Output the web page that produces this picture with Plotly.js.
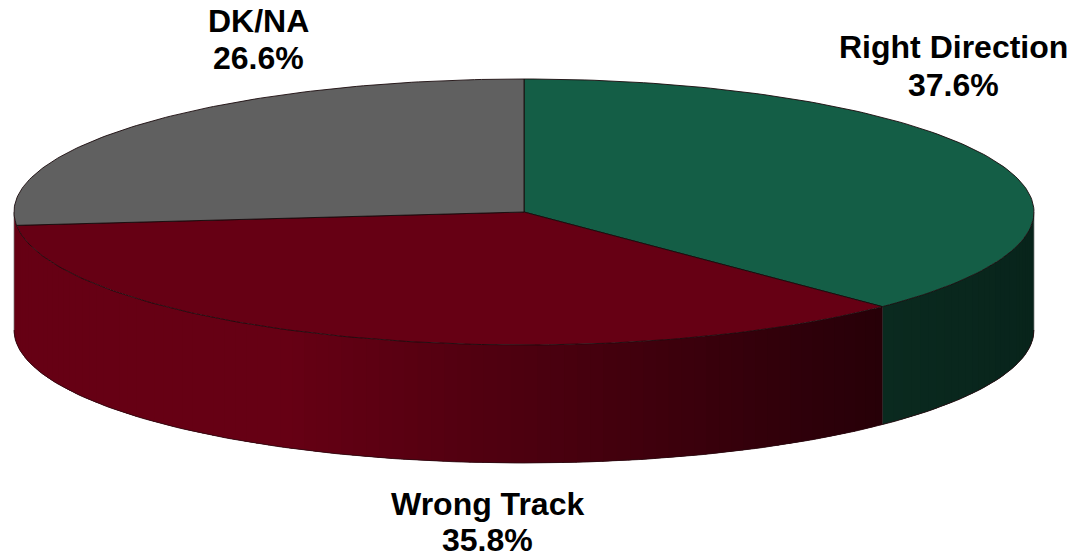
<!DOCTYPE html>
<html><head><meta charset="utf-8">
<script src="https://cdn.plot.ly/plotly-3.0.1.min.js"></script>
<style>html,body{margin:0;padding:0;background:#fff}</style></head>
<body><div id="chart" style="width:1074px;height:556px"></div>
<script>
const categories = ['Right Direction', 'Wrong Track', 'DK/NA'];
const shares = [37.6, 35.8, 26.6];
const topColors = ['#145e46', '#660014', '#606060'];
const wallDark = [[8,36,27], [38,0,8]];
const wallLight = [[10,42,31], [102,0,20]];
const labelX = [953, 487, 258];
const labelY = [[47, 85], [504, 540], [21, 58]];

const cx = 524, cy = 212, rx = 510, ry = 133, depth = 118;
const px = a => cx + rx * Math.sin(a);
const py = a => cy - ry * Math.cos(a);
const traces = [];
const bounds = []; let acc = 0;
shares.forEach(s => { const a0 = acc / 100 * 2 * Math.PI; acc += s; bounds.push([a0, acc / 100 * 2 * Math.PI]); });
function arc(a0, a1, n) { const r = []; for (let i = 0; i <= n; i++) r.push(a0 + (a1 - a0) * i / n); return r; }

// side wall: shaded strips along the front half of the rim, each overlapping the next
const wallStart = Math.PI / 2, wallEnd = 3 * Math.PI / 2, strips = 120;
const hardEdge = bounds[0][1];
for (let i = 0; i < strips; i++) {
  let a0 = wallStart + (wallEnd - wallStart) * i / strips;
  let a1 = wallStart + (wallEnd - wallStart) * (i + 1) / strips;
  const mid = (a0 + a1) / 2;
  const seg = mid < hardEdge ? 0 : 1;
  if (seg === 0) a1 = Math.min(a1 + 0.03, hardEdge);
  else { a0 = Math.max(a0, hardEdge); a1 = Math.min(a1 + 0.03, wallEnd); }
  const xm = px(mid);
  const t = seg === 0 ? (1034 - xm) / 150 : Math.min(1, (885 - xm) / 600);
  const c = [0, 1, 2].map(k => Math.round(wallDark[seg][k] + (wallLight[seg][k] - wallDark[seg][k]) * t));
  const as = arc(a0, a1, 4);
  traces.push({
    x: as.map(px).concat(as.slice().reverse().map(px)),
    y: as.map(a => py(a) + depth).concat(as.slice().reverse().map(py)),
    mode: 'none', fill: 'toself', fillcolor: `rgb(${c})`, hoverinfo: 'skip', showlegend: false
  });
}
// bottom rim, and the edge between the two wall colours
const outlineA = arc(Math.PI / 2, 3 * Math.PI / 2, 180);
traces.push({x: outlineA.map(px), y: outlineA.map(a => py(a) + depth), mode: 'lines', line: {width: 0.8, color: '#2a0a10'}, hoverinfo: 'skip', showlegend: false});
traces.push({x: [px(hardEdge), px(hardEdge)], y: [py(hardEdge), py(hardEdge) + depth], mode: 'lines', line: {width: 0.6, color: '#150308'}, hoverinfo: 'skip', showlegend: false});
[Math.PI / 2, 3 * Math.PI / 2].forEach(a => traces.push({x: [px(a), px(a)], y: [py(a), py(a) + depth], mode: 'lines', line: {width: 0.7, color: '#777'}, hoverinfo: 'skip', showlegend: false}));
// top faces
categories.forEach((name, i) => {
  const as = arc(bounds[i][0], bounds[i][1], 120);
  traces.push({
    x: [cx].concat(as.map(px), [cx]),
    y: [cy].concat(as.map(py), [cy]),
    mode: 'lines', fill: 'toself', fillcolor: topColors[i], line: {width: 0.9, color: '#1a0a0c'},
    name: name, hoverinfo: 'name', showlegend: false
  });
});
const annotations = [];
categories.forEach((name, i) => {
  [name, shares[i].toFixed(1) + '%'].forEach((t, j) => annotations.push({
    x: labelX[i], y: labelY[i][j], xref: 'x', yref: 'y', text: '<b>' + t + '</b>', showarrow: false,
    xanchor: 'center', yanchor: 'middle', font: {family: 'Liberation Sans', size: 32, color: '#000'}
  }));
});
Plotly.newPlot('chart', traces, {
  width: 1074, height: 556, margin: {l: 0, r: 0, t: 0, b: 0},
  paper_bgcolor: '#fff', plot_bgcolor: '#fff', showlegend: false,
  xaxis: {range: [0, 1074], visible: false, fixedrange: true},
  yaxis: {range: [556, 0], visible: false, fixedrange: true},
  annotations
}, {displayModeBar: false, staticPlot: true});
</script></body></html>
